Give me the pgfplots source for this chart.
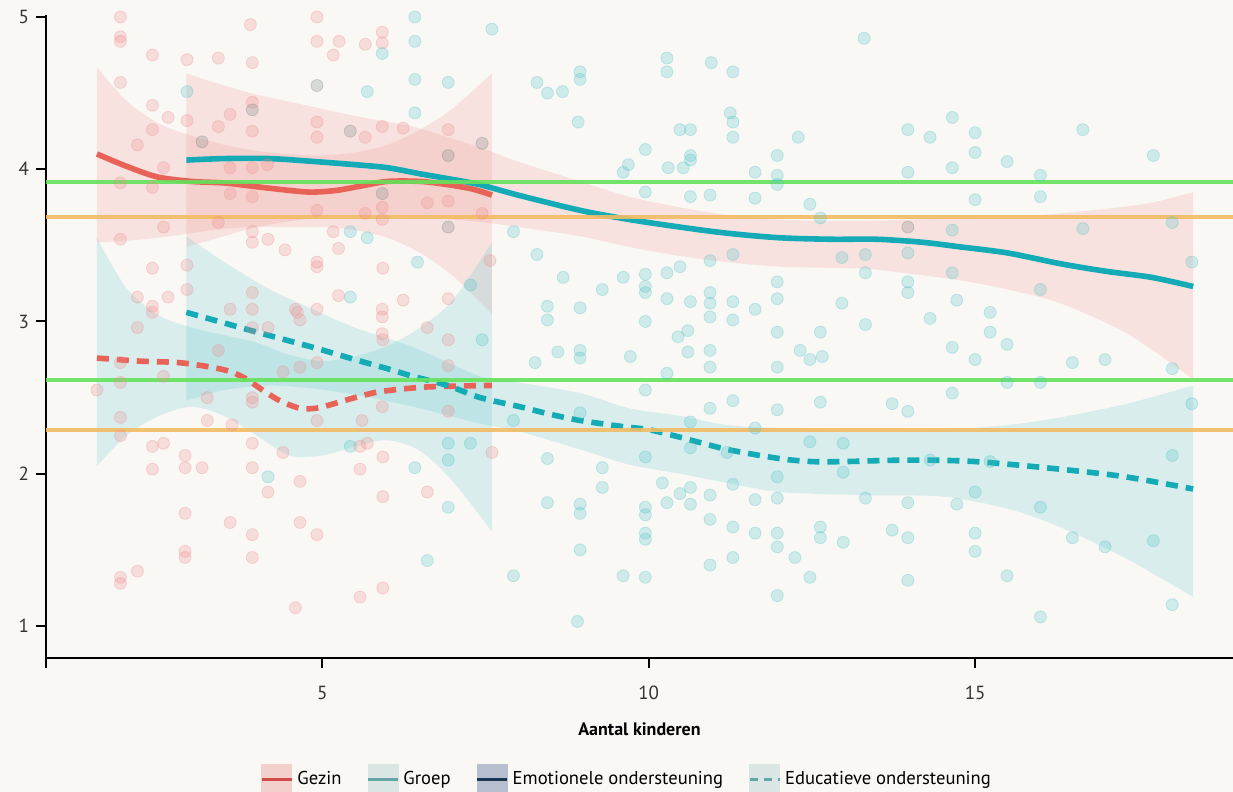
\documentclass[border=0pt]{standalone}
\usepackage{fontspec}
\setmainfont{PT Sans}
\usepackage{pgfplots}
\pgfplotsset{compat=1.18}
\usepgfplotslibrary{fillbetween}
\definecolor{bg}{RGB}{249,248,245}
\definecolor{pinkpt}{RGB}{240,140,140}
\definecolor{cyanpt}{RGB}{80,195,200}
\definecolor{greypt}{RGB}{120,130,130}
\definecolor{pinkband}{RGB}{242,150,145}
\definecolor{cyanband}{RGB}{100,200,205}
\definecolor{redline}{RGB}{232,98,88}
\definecolor{cyanline}{RGB}{20,170,182}
\definecolor{greenline}{RGB}{100,226,90}
\definecolor{orangeline}{RGB}{242,188,100}
\definecolor{legpink}{RGB}{243,208,203}
\definecolor{legred}{RGB}{210,75,75}
\definecolor{leggrey}{RGB}{218,230,228}
\definecolor{legteal}{RGB}{100,165,165}
\definecolor{legslate}{RGB}{183,190,205}
\definecolor{legnavy}{RGB}{25,55,85}
\begin{document}
\begin{tikzpicture}
\begin{axis}[
  scale only axis, width=593.5pt, height=321.5pt,
  xmin=0.77, xmax=18.95, ymin=0.79, ymax=5.013,
  clip=false,
  fill between/on layer=main,
  axis lines*=left,
  axis line style={-, line width=1pt, black},
  xtick={0.77,5,10,15}, xticklabels={,5,10,15},
  ytick={1,2,3,4,5},
  tick align=outside, major tick length=5pt,
  tick style={line width=1pt, black},
  every tick label/.append style={font=\fontsize{9.5}{11}\selectfont, text=black!80},
  xticklabel style={yshift=-5.5pt},
  /pgf/number format/assume math mode=true,
  xlabel={Aantal kinderen},
  xlabel style={font=\fontsize{9}{11}\selectfont\bfseries, yshift=-4.5pt},
  legend columns=4,
  legend cell align=left,
  legend style={at={(0.490,-0.190)}, anchor=center, draw=none, fill=none,
    font=\fontsize{9.3}{11}\selectfont, inner sep=0pt,
    /tikz/every even column/.append style={column sep=10.5pt}},
]
\begin{pgfonlayer}{axis background}
\fill[bg] (rel axis cs:-0.0388,-0.2085) rectangle (rel axis cs:1.001,1.0234);
\end{pgfonlayer}
% ---- scatter points ----
\addplot[only marks, mark=*, mark size=3pt, forget plot,
  mark options={fill=pinkpt, fill opacity=0.25, draw=pinkpt, draw opacity=0.3, line width=0.4pt}]
coordinates {
(1.91,5.00) (1.91,4.87) (1.91,4.84) (3.90,4.95) (4.92,5.00) (4.92,4.84) (5.26,4.84) (5.66,4.82) (5.92,4.90) (5.92,4.83)
(2.40,4.75) (2.93,4.72) (3.41,4.73) (3.93,4.70) (5.17,4.75) (1.91,4.57) (2.40,4.42) (2.64,4.34) (2.93,4.32) (3.41,4.28)
(3.59,4.36) (3.93,4.44) (3.93,4.25) (4.92,4.31) (4.92,4.21) (5.66,4.21) (5.92,4.28) (6.24,4.27) (6.93,4.26) (2.40,4.26)
(2.17,4.16) (2.57,4.01) (1.91,3.91) (2.40,3.88) (3.59,4.01) (3.93,4.01) (4.16,4.03) (3.59,3.84) (3.93,3.82) (4.92,3.73)
(5.17,3.59) (5.66,3.71) (5.92,3.75) (5.92,3.67) (6.61,3.78) (6.93,3.79) (7.45,3.71) (1.91,3.54) (2.57,3.62) (3.41,3.65)
(3.93,3.52) (3.93,3.59) (4.17,3.54) (4.43,3.47) (5.25,3.48) (4.92,3.39) (4.92,3.36) (5.93,3.35) (2.40,3.35) (2.93,3.37)
(2.17,3.16) (2.64,3.16) (2.40,3.10) (2.40,3.06) (2.93,3.21) (3.59,3.08) (3.93,3.19) (4.62,3.06) (5.25,3.17) (5.92,3.08)
(5.92,3.03) (6.24,3.14) (6.93,3.15) (6.61,2.96) (7.57,3.40) (3.93,2.96)
(1.91,2.73) (1.55,2.55) (1.91,2.37) (1.91,2.25) (2.40,2.18) (2.57,2.20) (2.40,2.03) (2.90,2.12) (2.90,2.04) (3.16,2.04)
(3.24,2.35) (3.62,2.32) (3.93,2.20) (3.93,2.04) (4.17,1.88) (4.40,2.14) (4.66,1.95) (5.58,2.18) (5.69,2.20) (5.58,2.03)
(5.93,2.11) (5.93,1.85) (6.61,1.88) (7.60,2.14) (2.90,1.74) (3.59,1.68) (3.93,1.60) (4.66,1.68) (4.92,1.60) (2.90,1.49)
(2.90,1.45) (3.93,1.45) (2.17,1.36) (1.91,1.32) (5.93,2.88) (6.93,2.88)
(2.17,2.96) (3.41,2.81) (3.93,3.08) (4.59,3.08) (4.92,3.08) (4.66,3.01) (3.24,2.50) (3.93,2.50) (3.93,2.47) (4.40,2.67)
(4.66,2.70) (4.92,2.73) (6.93,2.71) (6.93,2.41) (5.92,2.92) (5.61,2.35) (4.17,2.96) (2.57,2.64) (1.91,2.60) (4.92,2.35)
(5.92,2.44) (1.91,1.28) (4.59,1.12) (5.58,1.19) (5.93,1.25)
};
\addplot[only marks, mark=*, mark size=3pt, forget plot,
  mark options={fill=cyanpt, fill opacity=0.25, draw=cyanpt, draw opacity=0.3, line width=0.4pt}]
coordinates {
(5.92,4.76) (6.42,5.00) (6.42,4.84) (7.60,4.92) (8.29,4.57) (8.45,4.50) (8.68,4.51) (8.95,4.64) (8.95,4.59)
(10.28,4.73) (10.28,4.64) (10.96,4.70) (11.29,4.64) (13.30,4.86)
(5.43,3.59) (5.69,3.55) (6.46,3.39) (5.43,3.16) (7.93,3.59) (6.42,4.59) (6.93,4.57) (5.69,4.51) (6.42,4.37) (7.27,3.24)
(7.45,2.88) (2.93,4.51)
(4.17,1.98) (6.42,2.04) (6.93,2.09) (7.27,2.20) (6.93,2.20) (6.93,1.78) (6.61,1.43) (5.43,2.18) (7.93,2.35)
(8.92,4.31) (10.48,4.26) (10.64,4.26) (11.25,4.37) (11.29,4.31) (11.29,4.21) (12.29,4.21) (9.95,4.13) (10.64,4.09) (10.64,4.06)
(9.69,4.03) (9.61,3.98) (10.30,4.01) (10.53,4.01) (11.63,3.98) (11.97,4.09) (11.97,3.96) (11.97,3.90) (9.95,3.85) (10.94,3.83)
(11.63,3.81) (10.64,3.82) (12.47,3.77) (12.63,3.68) (8.29,3.44) (11.29,3.44) (10.94,3.40) (12.96,3.42) (8.69,3.29)
(9.61,3.29) (9.95,3.31) (9.95,3.23) (9.95,3.19) (10.28,3.32) (10.48,3.36) (11.97,3.26) (11.97,3.15) (9.29,3.21) (10.28,3.15)
(10.64,3.13) (10.94,3.19) (10.94,3.12) (10.94,3.03) (11.29,3.13) (11.29,3.01) (11.63,3.08) (12.96,3.12) (8.45,3.10) (8.45,3.01)
(8.95,3.09) (9.95,3.00) (11.97,2.93) (12.63,2.93) (10.60,2.94) (10.45,2.90) (8.26,2.73) (8.61,2.80) (8.95,2.81)
(8.95,2.76) (9.72,2.77) (10.60,2.80) (10.94,2.81) (10.94,2.70) (11.97,2.70) (12.32,2.81) (12.47,2.75) (12.66,2.77) (10.28,2.66)
(11.29,2.48) (11.97,2.42) (12.63,2.47) (10.94,2.43) (8.95,2.40) (9.95,2.55) (10.64,2.34) (11.63,2.30) (12.98,2.20) (12.47,2.21)
(11.20,2.14) (10.64,2.17) (9.95,2.11) (8.45,2.10) (9.29,2.04) (9.29,1.91) (10.21,1.94) (10.48,1.87) (10.64,1.91) (10.94,1.86)
(11.97,1.98) (12.98,2.01) (11.29,1.93) (11.63,1.83) (11.97,1.84) (8.45,1.81) (8.95,1.80) (8.95,1.74) (9.95,1.78) (9.95,1.73)
(10.28,1.81) (10.64,1.80) (10.94,1.70) (11.29,1.65) (9.95,1.61) (9.95,1.57) (11.63,1.61) (11.97,1.61) (11.97,1.52) (12.63,1.65)
(12.63,1.58) (12.98,1.55) (8.95,1.50) (11.29,1.45) (12.24,1.45) (10.94,1.40) (7.93,1.33) (9.61,1.33) (9.95,1.32) (12.47,1.32)
(11.97,1.20) (8.91,1.03)
(13.97,4.26) (14.31,4.21) (14.65,4.34) (15.00,4.24) (15.00,4.11) (15.49,4.05) (16.65,4.26) (17.73,4.09) (13.97,3.98) (14.65,4.01)
(16.00,3.96) (16.00,3.82) (15.00,3.80) (14.65,3.60) (16.65,3.61) (18.02,3.65) (13.32,3.44) (13.32,3.32) (13.97,3.45) (13.97,3.26)
(13.97,3.19) (14.65,3.32) (16.00,3.21) (18.32,3.39) (14.72,3.14) (14.31,3.02) (15.23,3.06) (15.23,2.93) (15.49,2.85) (13.32,2.98)
(14.65,2.83) (15.00,2.75) (16.49,2.73) (16.99,2.75) (18.02,2.69) (14.65,2.53) (13.73,2.46) (13.97,2.41) (15.49,2.60) (16.00,2.60)
(18.32,2.46) (18.02,2.12) (14.31,2.09) (15.23,2.08) (15.00,1.88) (13.32,1.84) (13.97,1.81) (14.72,1.80) (16.00,1.78) (13.73,1.63)
(13.97,1.58) (15.00,1.61) (15.00,1.49) (16.49,1.58) (16.99,1.52) (17.73,1.56) (13.97,1.30) (15.49,1.33) (16.00,1.06) (18.02,1.14)
};
\addplot[only marks, mark=*, mark size=3pt, forget plot,
  mark options={fill=greypt, fill opacity=0.25, draw=greypt, draw opacity=0.3, line width=0.4pt}]
coordinates {
(4.92,4.55) (5.43,4.25) (6.93,4.09) (7.45,4.17) (3.16,4.18) (3.93,4.39) (5.92,3.84) (6.93,3.62) (13.97,3.62)
};
% ---- confidence bands ----
\addplot[name path=b1u, draw=none, smooth, forget plot] coordinates {
(1.55,4.67) (2.0,4.45) (2.5,4.30) (3.0,4.22) (3.5,4.16) (4.0,4.12) (4.5,4.10) (5.0,4.09) (5.5,4.11) (6.0,4.16) (6.5,4.26) (7.0,4.40) (7.6,4.63)};
\addplot[name path=b1l, draw=none, smooth, forget plot] coordinates {
(1.55,3.52) (2.0,3.53) (2.5,3.55) (3.0,3.58) (3.5,3.61) (4.0,3.62) (4.5,3.62) (5.0,3.62) (5.5,3.60) (6.0,3.55) (6.5,3.45) (7.0,3.30) (7.6,3.05)};
\addplot[fill=pinkband, fill opacity=0.22, draw=none, forget plot] fill between[of=b1u and b1l];
\addplot[name path=b2u, draw=none, smooth, forget plot] coordinates {
(2.92,4.63) (3.5,4.55) (4.0,4.49) (4.86,4.41) (5.5,4.35) (6.39,4.28) (7.0,4.20) (7.5,4.13) (8.0,4.05) (8.95,3.92) (9.7,3.82) (10.48,3.75) (11.2,3.70) (12.0,3.67) (13.0,3.66) (14.0,3.67) (15.0,3.69) (16.0,3.70) (17.0,3.74) (17.7,3.78) (18.34,3.85)};
\addplot[name path=b2l, draw=none, smooth, forget plot] coordinates {
(2.92,3.49) (3.5,3.56) (4.0,3.62) (4.86,3.68) (5.5,3.70) (6.39,3.69) (7.0,3.67) (7.5,3.65) (8.0,3.62) (8.95,3.56) (9.7,3.49) (10.48,3.43) (11.2,3.39) (12.0,3.36) (13.0,3.35) (13.5,3.34) (14.77,3.27) (15.5,3.21) (16.3,3.12) (17.33,2.92) (18.34,2.62)};
\addplot[fill=pinkband, fill opacity=0.22, draw=none, forget plot] fill between[of=b2u and b2l];
\addplot[name path=b3u, draw=none, smooth, forget plot] coordinates {
(1.55,3.55) (2.0,3.22) (2.5,3.04) (3.0,2.96) (3.5,2.91) (4.0,2.86) (4.5,2.78) (5.0,2.74) (5.5,2.77) (6.0,2.84) (6.5,2.96) (7.0,3.14) (7.6,3.52)};
\addplot[name path=b3l, draw=none, smooth, forget plot] coordinates {
(1.55,2.05) (2.0,2.25) (2.5,2.38) (3.0,2.44) (3.5,2.38) (4.0,2.25) (4.5,2.12) (5.0,2.12) (5.5,2.18) (6.0,2.22) (6.5,2.15) (7.0,1.95) (7.6,1.62)};
\addplot[fill=cyanband, fill opacity=0.22, draw=none, forget plot] fill between[of=b3u and b3l];
\addplot[name path=b4u, draw=none, smooth, forget plot] coordinates {
(2.92,3.56) (3.5,3.39) (4.2,3.21) (4.86,3.08) (5.5,2.96) (6.4,2.83) (7.42,2.64) (8.0,2.60) (8.95,2.53) (9.7,2.43) (10.48,2.38) (11.2,2.32) (12.0,2.30) (13.24,2.28) (14.5,2.29) (15.5,2.32) (16.3,2.37) (17.33,2.46) (18.34,2.58)};
\addplot[name path=b4l, draw=none, smooth, forget plot] coordinates {
(2.92,2.48) (3.5,2.55) (4.2,2.58) (4.86,2.56) (5.5,2.52) (6.4,2.44) (7.42,2.33) (8.0,2.28) (8.95,2.16) (9.7,2.06) (10.48,2.00) (11.2,1.94) (12.0,1.88) (13.24,1.86) (14.5,1.85) (15.5,1.77) (16.3,1.65) (17.33,1.44) (18.34,1.19)};
\addplot[fill=cyanband, fill opacity=0.22, draw=none, forget plot] fill between[of=b4u and b4l];
% ---- fitted lines ----
\addplot[redline, line width=2.8pt, smooth, forget plot] coordinates {
(1.55,4.10) (2.0,4.02) (2.47,3.95) (3.0,3.92) (3.5,3.91) (3.9,3.89) (4.3,3.87) (4.8,3.85) (5.2,3.86) (5.6,3.89) (6.0,3.92) (6.5,3.92) (6.9,3.90) (7.3,3.87) (7.6,3.83)};
\addplot[cyanline, line width=2.8pt, smooth, forget plot] coordinates {
(2.92,4.06) (3.5,4.07) (4.2,4.07) (4.9,4.05) (5.5,4.03) (6.0,4.01) (6.5,3.97) (6.9,3.94) (7.4,3.90) (8.0,3.83) (8.95,3.73) (9.7,3.67) (10.48,3.62) (11.2,3.58) (12.0,3.55) (12.8,3.54) (13.5,3.54) (14.2,3.52) (14.77,3.49) (15.5,3.45) (16.3,3.38) (17.0,3.33) (17.7,3.29) (18.34,3.23)};
\addplot[redline, line width=2.8pt, smooth, dash pattern=on 6pt off 4pt, forget plot] coordinates {
(1.55,2.76) (2.2,2.74) (2.8,2.73) (3.3,2.70) (3.6,2.67) (3.85,2.62) (4.05,2.56) (4.35,2.48) (4.66,2.43) (4.9,2.43) (5.1,2.45) (5.5,2.50) (5.9,2.54) (6.6,2.57) (7.6,2.58)};
\addplot[cyanline, line width=2.8pt, smooth, dash pattern=on 6pt off 4pt, forget plot] coordinates {
(2.92,3.06) (3.5,2.99) (4.0,2.93) (4.86,2.83) (5.5,2.75) (6.0,2.69) (6.39,2.64) (6.92,2.58) (7.42,2.50) (8.03,2.44) (8.5,2.39) (8.95,2.35) (9.6,2.31) (10.0,2.29) (10.48,2.24) (11.2,2.16) (12.0,2.10) (12.5,2.08) (13.0,2.08) (14.0,2.09) (15.0,2.08) (16.3,2.03) (17.3,1.98) (18.34,1.90)};
% ---- reference lines ----
\addplot[greenline, line width=2pt, opacity=0.9, forget plot] coordinates {(0.77,3.916) (18.95,3.916)};
\addplot[orangeline, line width=2pt, opacity=0.9, forget plot] coordinates {(0.77,3.686) (18.95,3.686)};
\addplot[greenline, line width=2pt, opacity=0.9, forget plot] coordinates {(0.77,2.616) (18.95,2.616)};
\addplot[orangeline, line width=2pt, opacity=0.9, forget plot] coordinates {(0.77,2.290) (18.95,2.290)};
% ---- legend ----
\addlegendimage{legend image code/.code={\fill[legpink] (0pt,-8pt) rectangle (15pt,7.5pt); \draw[legred, line width=1.5pt] (0pt,0pt) -- (15pt,0pt);}}
\addlegendentry{Gezin}
\addlegendimage{legend image code/.code={\fill[leggrey] (0pt,-8pt) rectangle (15pt,7.5pt); \draw[legteal, line width=1.5pt] (0pt,0pt) -- (15pt,0pt);}}
\addlegendentry{Groep}
\addlegendimage{legend image code/.code={\fill[legslate] (0pt,-8pt) rectangle (15pt,7.5pt); \draw[legnavy, line width=1.5pt] (0pt,0pt) -- (15pt,0pt);}}
\addlegendentry{Emotionele ondersteuning}
\addlegendimage{legend image code/.code={\fill[leggrey] (0pt,-8pt) rectangle (15pt,7.5pt); \draw[legteal, line width=1.5pt, dash pattern=on 4pt off 3pt] (0pt,0pt) -- (15pt,0pt);}}
\addlegendentry{Educatieve ondersteuning}
\end{axis}
\pgfresetboundingbox
\useasboundingbox (-23pt,-67pt) rectangle (593.5pt,329pt);
\end{tikzpicture}
\end{document}
